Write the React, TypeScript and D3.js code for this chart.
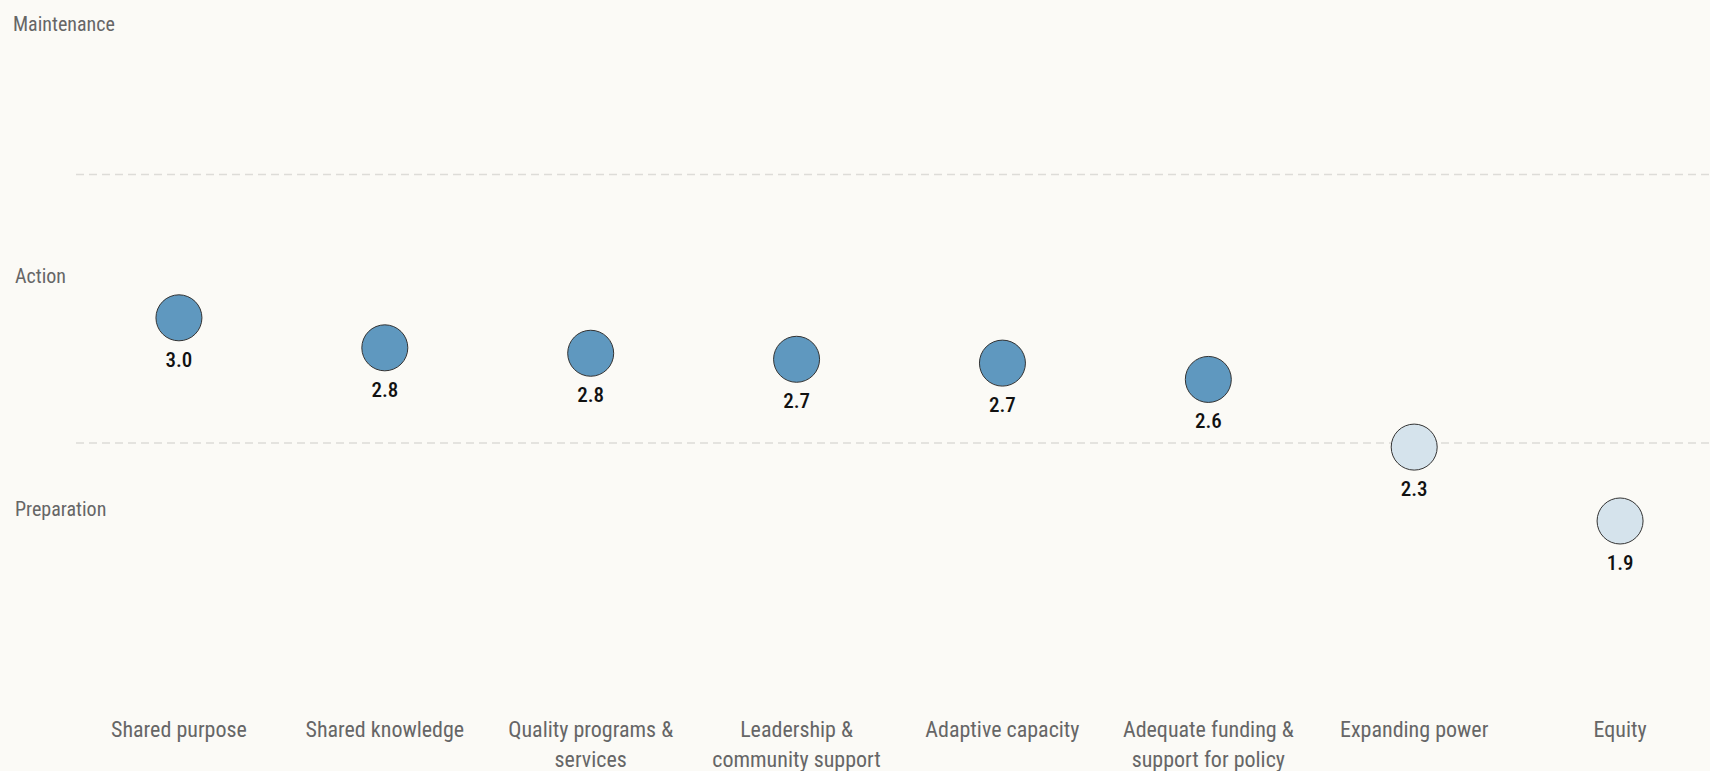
import React, { useEffect, useRef } from 'react';
import * as d3 from 'd3';

// categories on the x axis
const categories = [
  'Shared purpose',
  'Shared knowledge',
  'Quality programs & services',
  'Leadership & community support',
  'Adaptive capacity',
  'Adequate funding & support for policy',
  'Expanding power',
  'Equity',
];

// average score per category
const scores = [2.955, 2.806, 2.779, 2.749, 2.73, 2.649, 2.313, 1.946];

// stage bands
const stageNames = ['Maintenance', 'Action', 'Preparation'];
const stageLabelAt = [4.38, 3.13, 1.97];
const stageBreaks = [3.667, 2.333];

const W = 1710;
const H = 771;
const FONT = "'Roboto Condensed', Roboto, sans-serif";

const App = () => {
  const svgRef = useRef<SVGSVGElement>(null);

  useEffect(() => {
    const svg = d3.select(svgRef.current);
    svg.selectAll('*').remove();

    svg.append('rect').attr('width', W).attr('height', H).attr('fill', '#fbfaf6');

    const x = d3.scaleBand().domain(categories).range([76, 1723]).padding(0);
    const y = d3.scaleLinear().domain([1, 5]).range([711.5, -94]);
    const cx = (c: string) => (x(c) ?? 0) + x.bandwidth() / 2;

    // 虚线分隔
    svg
      .append('g')
      .selectAll('line')
      .data(stageBreaks)
      .join('line')
      .attr('x1', 76)
      .attr('x2', W)
      .attr('y1', d => y(d))
      .attr('y2', d => y(d))
      .attr('stroke', '#dddcd8')
      .attr('stroke-width', 1.5)
      .attr('stroke-dasharray', '8,5');

    // stage labels
    svg
      .append('g')
      .selectAll('text')
      .data(stageNames)
      .join('text')
      .attr('x', (d, i) => (i === 0 ? 13 : 15))
      .attr('y', (d, i) => y(stageLabelAt[i]))
      .attr('font-family', FONT)
      .attr('font-size', 20)
      .attr('fill', '#666')
      .text(d => d);

    // circles
    const pts = svg
      .append('g')
      .selectAll('g')
      .data(categories)
      .join('g');

    pts
      .append('circle')
      .attr('cx', d => cx(d))
      .attr('cy', (d, i) => y(scores[i]))
      .attr('r', 23)
      .attr('fill', (d, i) => (scores[i] >= stageBreaks[1] ? '#5f98bf' : '#d5e3ec'))
      .attr('stroke', '#333')
      .attr('stroke-width', 1);

    pts
      .append('text')
      .attr('x', d => cx(d))
      .attr('y', (d, i) => y(scores[i]) + 49)
      .attr('text-anchor', 'middle')
      .attr('font-family', FONT)
      .attr('font-size', 21)
      .attr('font-weight', 500)
      .attr('fill', '#111')
      .text((d, i) => scores[i].toFixed(1));

    // x axis labels, wrapped
    const labels = svg
      .append('g')
      .selectAll('text')
      .data(categories)
      .join('text')
      .attr('transform', d => `translate(${cx(d)},737)`)
      .attr('text-anchor', 'middle')
      .attr('font-family', FONT)
      .attr('font-size', 22)
      .attr('fill', '#666');

    labels.each(function (d) {
      const t = d3.select(this);
      const words = d.split(' ');
      let line: string[] = [];
      let tspan = t.append('tspan').attr('x', 0).attr('dy', 0);
      words.forEach(w => {
        line.push(w);
        tspan.text(line.join(' '));
        if ((tspan.node() as SVGTSpanElement).getComputedTextLength() > 185 && line.length > 1) {
          line.pop();
          tspan.text(line.join(' '));
          line = [w];
          tspan = t.append('tspan').attr('x', 0).attr('dy', 30).text(w);
        }
      });
    });
  }, []);

  return (
    <svg
      ref={svgRef}
      width={W}
      height={H}
      style={{ position: 'absolute', left: 0, top: 0, display: 'block' }}
    />
  );
};

export default App;
